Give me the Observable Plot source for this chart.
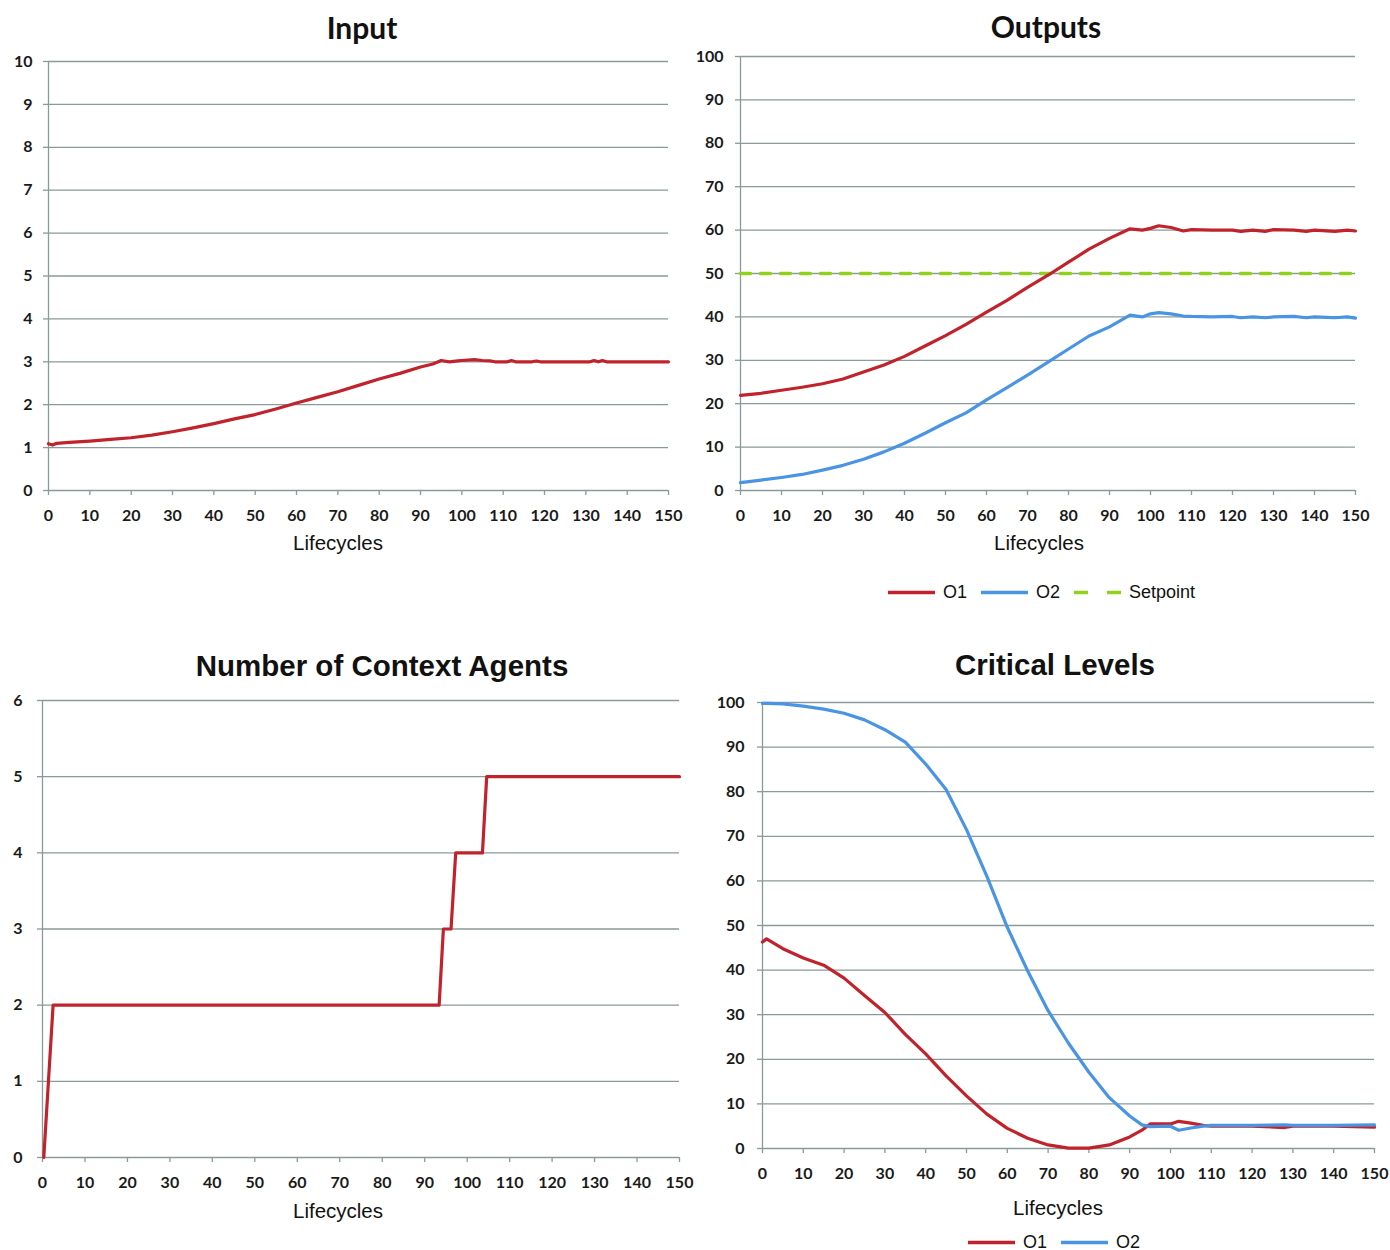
<!DOCTYPE html>
<html>
<head>
<meta charset="utf-8">
<script src="https://cdn.jsdelivr.net/npm/d3@7"></script>
<script src="https://cdn.jsdelivr.net/npm/@observablehq/plot@0.6"></script>
<style>
  html, body { margin: 0; padding: 0; background: #fff; }
  #page { position: relative; width: 1390px; height: 1250px; overflow: hidden; background: #fff; }
  .panel { position: absolute; }
  .title { position: absolute; transform: translate(-50%, -50%); font-family: "Liberation Sans", Arial, sans-serif; font-weight: bold; font-size: 29.5px; color: #111; white-space: nowrap; }
  .title.cal { font-family: Lato, sans-serif; font-size: 30px; }
  .xlabel { position: absolute; transform: translate(-50%, -50%); font-family: "Liberation Sans", Arial, sans-serif; font-size: 20.5px; color: #111; white-space: nowrap; }
  .legend { position: absolute; transform: translateY(-50%); font-family: "Liberation Sans", Arial, sans-serif; font-size: 18px; color: #111; display: flex; align-items: center; white-space: nowrap; }
  .legend svg { display: block; }
  .legend span { margin: 0 14px 0 8px; }
</style>
</head>
<body>
<div id="page"></div>
<script>
// ---------- data ----------
const xTicks = [0, 10, 20, 30, 40, 50, 60, 70, 80, 90, 100, 110, 120, 130, 140, 150];
const inputTicks = [0, 1, 2, 3, 4, 5, 6, 7, 8, 9, 10];
const pctTicks = [0, 10, 20, 30, 40, 50, 60, 70, 80, 90, 100];
const agentTicks = [0, 1, 2, 3, 4, 5, 6];

const inputX = [0, 1, 2, 5, 10, 15, 20, 25, 30, 35, 40, 45, 50, 55, 60, 65, 70, 75, 80, 85, 90, 93, 95, 97, 99, 100, 103, 105, 107, 108, 111, 112, 113, 117, 118, 119, 131, 132, 133, 134, 135, 150];
const inputY = [1.09, 1.06, 1.1, 1.12, 1.15, 1.19, 1.23, 1.29, 1.37, 1.46, 1.56, 1.67, 1.77, 1.9, 2.04, 2.17, 2.3, 2.45, 2.6, 2.73, 2.88, 2.95, 3.03, 3.0, 3.02, 3.03, 3.05, 3.03, 3.02, 3.0, 3.0, 3.03, 3.0, 3.0, 3.02, 3.0, 3.0, 3.03, 3.0, 3.03, 3.0, 3.0];

const outX  = [0, 5, 10, 15, 20, 25, 30, 35, 40, 45, 50, 55, 60, 65, 70, 75, 80, 85, 90, 95, 98, 100, 102, 105, 108, 110, 115, 120, 122, 125, 128, 130, 135, 138, 140, 143, 145, 148, 150];
const outO1 = [21.9, 22.4, 23.1, 23.8, 24.6, 25.7, 27.3, 28.9, 30.9, 33.3, 35.7, 38.3, 41.1, 43.8, 46.8, 49.6, 52.6, 55.6, 58.1, 60.3, 60.0, 60.4, 61.0, 60.6, 59.8, 60.1, 60.0, 60.0, 59.7, 60.0, 59.7, 60.1, 60.0, 59.7, 60.0, 59.8, 59.7, 60.0, 59.8];
const outO2 = [1.8, 2.4, 3.0, 3.7, 4.7, 5.8, 7.2, 8.9, 10.9, 13.2, 15.6, 17.9, 20.9, 23.7, 26.6, 29.6, 32.6, 35.6, 37.7, 40.4, 40.0, 40.7, 41.0, 40.7, 40.2, 40.1, 40.0, 40.1, 39.8, 40.0, 39.8, 40.0, 40.1, 39.8, 40.0, 39.9, 39.8, 40.0, 39.7];
const setpointX = [0, 150];
const setpointY = [50, 50];

const agentsX = [0.3, 2.5, 93.4, 94.4, 96.2, 97.3, 103.6, 104.6, 150];
const agentsY = [0, 2, 2, 3, 3, 4, 4, 5, 5];

const critX  = [0, 1, 5, 10, 15, 20, 25, 30, 35, 40, 45, 50, 55, 60, 65, 70, 75, 80, 85, 90, 93, 95, 100, 102, 105, 108, 110, 120, 128, 130, 140, 150];
const critO1 = [46.3, 47.0, 44.8, 42.7, 41.1, 38.2, 34.3, 30.5, 25.6, 21.2, 16.3, 11.8, 7.7, 4.5, 2.3, 0.8, 0.1, 0.1, 0.8, 2.6, 4.1, 5.5, 5.5, 6.1, 5.7, 5.2, 5.0, 5.0, 4.7, 5.0, 5.0, 4.8];
const critO2 = [99.8, 99.8, 99.7, 99.2, 98.5, 97.6, 96.1, 93.9, 91.1, 86.2, 80.5, 71.5, 61.0, 49.6, 39.8, 30.9, 23.6, 17.1, 11.4, 7.3, 5.3, 4.9, 5.0, 4.1, 4.6, 5.0, 5.2, 5.2, 5.3, 5.2, 5.2, 5.3];

// ---------- styles ----------
const RED = "#c0232c";
const BLUE = "#4a94e4";
const GREEN = "#8fd11b";
const GRID = "#8a9a9a";

const page = document.getElementById("page");

function zip(xs, ys) { return xs.map((x, i) => ({x, y: ys[i]})); }

function panel({left, top, width, height, ml, mr, mt, mb, yDomain, yTicks, series, dashed, tickPad}) {
  const marks = [
    Plot.gridY(yTicks, {stroke: GRID, strokeOpacity: 1, strokeWidth: 1.3}),
    Plot.axisY(yTicks, {tickSize: 5, tickPadding: tickPad, stroke: GRID, strokeWidth: 1.3, tickFormat: "d", label: null}),
    Plot.axisX(xTicks, {tickSize: 5, tickPadding: 14, stroke: GRID, strokeWidth: 1.3, tickFormat: "d", label: null}),
    Plot.ruleX([0], {stroke: GRID, strokeWidth: 1.3})
  ];
  if (dashed) marks.push(Plot.line(zip(dashed.x, dashed.y), {x: "x", y: "y", stroke: GREEN, strokeWidth: 3.5, strokeDasharray: "10,10"}));
  for (const s of series) marks.push(Plot.line(zip(s.x, s.y), {x: "x", y: "y", stroke: s.color, strokeWidth: 3.2}));
  const svg = Plot.plot({
    width, height,
    marginLeft: ml, marginRight: mr, marginTop: mt, marginBottom: mb,
    x: {domain: [0, 150]},
    y: {domain: yDomain},
    style: {fontFamily: "Lato, sans-serif", fontSize: "16px", fontWeight: "bold", color: "#1a1a1a", background: "transparent", overflow: "visible"},
    marks
  });
  svg.classList.add("panel");
  svg.style.left = left + "px";
  svg.style.top = top + "px";
  page.appendChild(svg);
}

function text(cls, str, x, y) {
  const d = document.createElement("div");
  d.className = cls; d.textContent = str;
  d.style.left = x + "px"; d.style.top = y + "px";
  page.appendChild(d);
}

function legend(items, x, y) {
  const d = document.createElement("div");
  d.className = "legend";
  d.style.left = x + "px"; d.style.top = y + "px";
  for (const it of items) {
    const s = document.createElementNS("http://www.w3.org/2000/svg", "svg");
    s.setAttribute("width", 47); s.setAttribute("height", 10);
    const l = document.createElementNS("http://www.w3.org/2000/svg", "line");
    l.setAttribute("x1", 0); l.setAttribute("x2", 47); l.setAttribute("y1", 5); l.setAttribute("y2", 5);
    l.setAttribute("stroke", it.color); l.setAttribute("stroke-width", 3.5);
    if (it.dash) l.setAttribute("stroke-dasharray", "14,19");
    s.appendChild(l); d.appendChild(s);
    const t = document.createElement("span"); t.textContent = it.label; d.appendChild(t);
  }
  page.appendChild(d);
}

// Panel 1: Input
panel({left: 0, top: 40, width: 700, height: 540, ml: 48, mr: 32, mt: 21, mb: 90,
  yDomain: [0, 10], yTicks: inputTicks, tickPad: 11,
  series: [{x: inputX, y: inputY, color: RED}]});
text("title cal", "Input", 362, 27);
text("xlabel", "Lifecycles", 338, 543);

// Panel 2: Outputs
panel({left: 690, top: 40, width: 700, height: 540, ml: 50, mr: 35, mt: 16, mb: 90,
  yDomain: [0, 100], yTicks: pctTicks, tickPad: 12,
  dashed: {x: setpointX, y: setpointY},
  series: [{x: outX, y: outO1, color: RED}, {x: outX, y: outO2, color: BLUE}]});
text("title cal", "Outputs", 1046, 26);
text("xlabel", "Lifecycles", 1039, 543);
legend([{label: "O1", color: RED}, {label: "O2", color: BLUE}, {label: "Setpoint", color: GREEN, dash: true}], 888, 592);

// Panel 3: Number of Context Agents
panel({left: 0, top: 680, width: 700, height: 570, ml: 42, mr: 21, mt: 20, mb: 93,
  yDomain: [0, 6], yTicks: agentTicks, tickPad: 15,
  series: [{x: agentsX, y: agentsY, color: RED}]});
text("title", "Number of Context Agents", 382, 666);
text("xlabel", "Lifecycles", 338, 1211);

// Panel 4: Critical Levels
panel({left: 700, top: 680, width: 690, height: 570, ml: 62, mr: 16, mt: 22, mb: 102,
  yDomain: [0, 100], yTicks: pctTicks, tickPad: 13,
  series: [{x: critX, y: critO1, color: RED}, {x: critX, y: critO2, color: BLUE}]});
text("title", "Critical Levels", 1055, 665);
text("xlabel", "Lifecycles", 1058, 1208);
legend([{label: "O1", color: RED}, {label: "O2", color: BLUE}], 968, 1242);
</script>
</body>
</html>
